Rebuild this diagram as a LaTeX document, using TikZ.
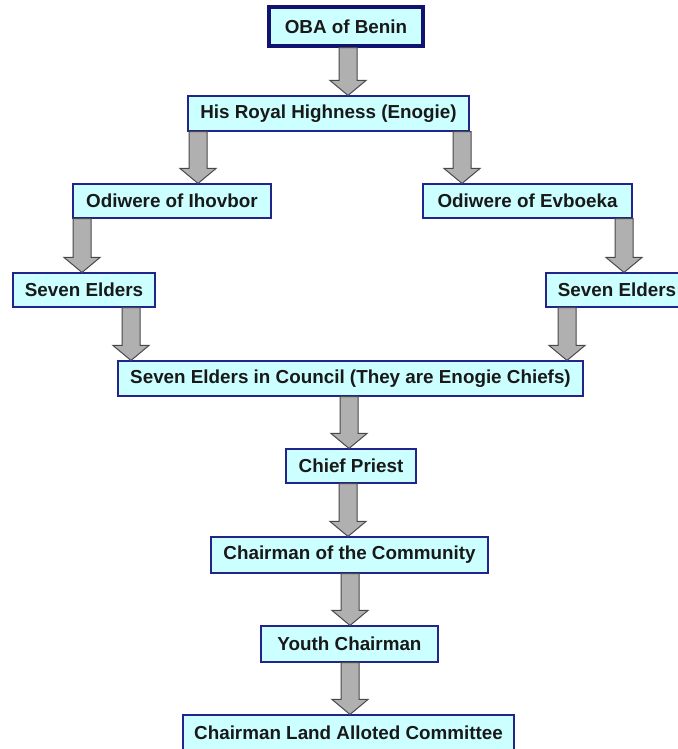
\documentclass[tikz,border=0pt]{standalone}
\usepackage{fontspec}
\setmainfont{Liberation Sans}
\usepackage{tikz}
\usetikzlibrary{calc}

\definecolor{boxfill}{HTML}{CCFFFF}
\definecolor{boxline}{HTML}{23238C}
\definecolor{obaline}{HTML}{121270}
\definecolor{arrfill}{HTML}{B0B0B0}
\definecolor{arrline}{HTML}{484848}

% block arrow straight down at x=#1 from node #2 to node #3
\newcommand{\blkdown}[3]{%
\coordinate (s) at (#1,0 |- #2.south);
\coordinate (t) at (#1,0 |- #3.north);
\draw[blkarrow] ($(s)+(-9,0)$) -- ($(s)+(9,0)$) -- ($(t)+(9,-15)$) -- ($(t)+(18,-15)$) -- (t) -- ($(t)+(-18,-15)$) -- ($(t)+(-9,-15)$) -- cycle;
}

\begin{document}
\begin{tikzpicture}[x=1bp,y=-1bp,
  rank/.style={draw=boxline,fill=boxfill,line width=1.1bp,inner sep=0pt,
    font=\bfseries\fontsize{18.9}{22}\selectfont,text=black!90},
  blkarrow/.style={draw=arrline,fill=arrfill,line width=1bp,line join=miter}]
\useasboundingbox (0,0) rectangle (678,749);

\node[rank,draw=obaline,line width=3.5bp,minimum width=154bp,minimum height=39bp] (oba) at (346,26.5) {OBA of Benin};
\node[rank,minimum width=281bp,minimum height=35bp] (hrh) at (328.5,113.5) {His Royal Highness (Enogie)};
\node[rank,minimum width=198bp,minimum height=34bp] (ihov) at (172,201) {Odiwere of Ihovbor};
\node[rank,minimum width=209bp,minimum height=34bp] (evbo) at (527.5,201) {Odiwere of Evboeka};
\node[rank,minimum width=142bp,minimum height=34bp] (eldl) at (84,290) {Seven Elders};
\node[rank,minimum width=142bp,minimum height=34bp] (eldr) at (617,290) {Seven Elders};
\node[rank,minimum width=465bp,minimum height=35bp] (council) at (350.5,378.5) {Seven Elders in Council (They are Enogie Chiefs)};
\node[rank,minimum width=130bp,minimum height=34bp] (priest) at (351,466) {Chief Priest};
\node[rank,minimum width=277bp,minimum height=36bp] (comm) at (349.5,555) {Chairman of the Community};
\node[rank,minimum width=177bp,minimum height=36bp] (youth) at (349.5,644) {Youth Chairman};
\node[rank,minimum width=331bp,minimum height=36bp] (land) at (348.5,733) {Chairman Land Alloted Committee};

\blkdown{348}{oba}{hrh}
\blkdown{198}{hrh}{ihov}
\blkdown{462}{hrh}{evbo}
\blkdown{82}{ihov}{eldl}
\blkdown{624}{evbo}{eldr}
\blkdown{131}{eldl}{council}
\blkdown{567}{eldr}{council}
\blkdown{349}{council}{priest}
\blkdown{348}{priest}{comm}
\blkdown{350}{comm}{youth}
\blkdown{350}{youth}{land}

\end{tikzpicture}
\end{document}
